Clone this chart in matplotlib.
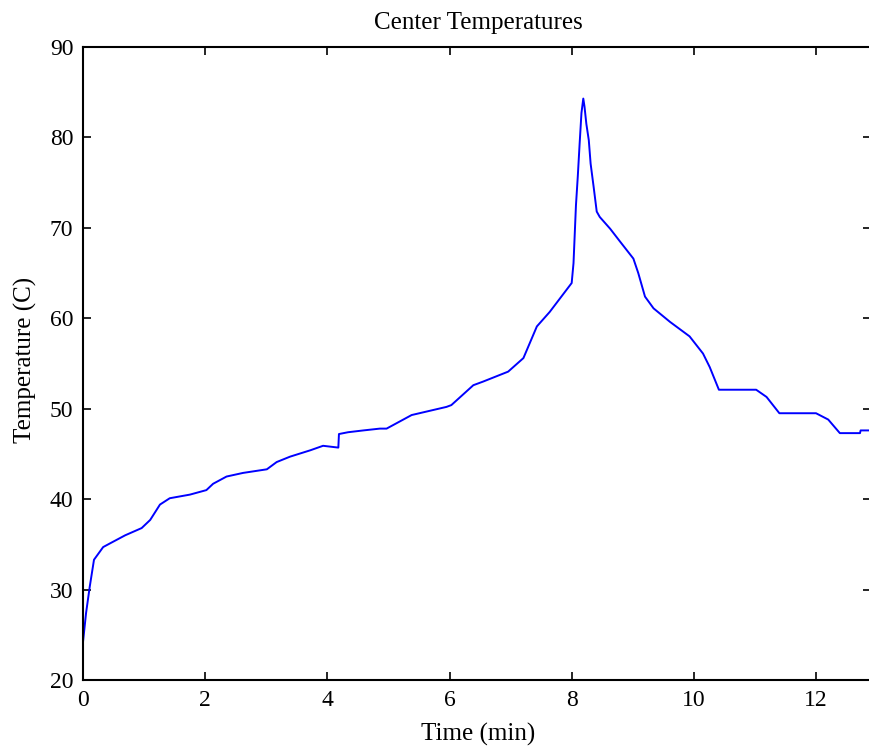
import matplotlib
matplotlib.use("Agg")
import matplotlib.pyplot as plt

time_min = [0.0, 0.05, 0.11, 0.18, 0.33, 0.44, 0.69, 0.96, 1.10, 1.26, 1.42, 1.75,
            2.02, 2.13, 2.35, 2.62, 3.01, 3.17, 3.39, 3.72, 3.93, 4.18, 4.19, 4.34,
            4.59, 4.86, 4.97, 5.38, 5.95, 6.03, 6.39, 6.55, 6.96, 7.21, 7.43, 7.64,
            8.00, 8.03, 8.07, 8.10, 8.13, 8.16, 8.19, 8.21, 8.24, 8.28, 8.31, 8.36,
            8.41, 8.46, 8.63, 8.79, 9.01, 9.09, 9.20, 9.34, 9.61, 9.93, 10.15, 10.26,
            10.41, 11.02, 11.19, 11.40, 12.00, 12.20, 12.39, 12.72, 12.73, 12.88]
temp_c = [24.2, 27.4, 30.3, 33.3, 34.7, 35.1, 36.0, 36.8, 37.7, 39.4, 40.1, 40.5,
          41.0, 41.7, 42.5, 42.9, 43.3, 44.1, 44.7, 45.4, 45.9, 45.7, 47.2, 47.4,
          47.6, 47.8, 47.8, 49.3, 50.2, 50.4, 52.6, 53.0, 54.1, 55.6, 59.1, 60.7,
          63.9, 66.1, 72.5, 75.7, 79.3, 82.7, 84.3, 83.4, 81.5, 79.7, 77.1, 74.5,
          71.8, 71.2, 69.9, 68.5, 66.6, 65.0, 62.4, 61.1, 59.6, 58.0, 56.1, 54.6,
          52.1, 52.1, 51.3, 49.5, 49.5, 48.8, 47.3, 47.3, 47.6, 47.6]

xticks = [0, 2, 4, 6, 8, 10, 12]
yticks = [20, 30, 40, 50, 60, 70, 80, 90]

plt.rcParams['font.family'] = ['Liberation Serif', 'DejaVu Serif']

W, H = 869, 746
fig = plt.figure(figsize=(W / 100, H / 100), dpi=100)
left, right, top, bottom = 83, 871, 47, 680
ax = fig.add_axes([left / W, (H - bottom) / H, (right - left) / W, (bottom - top) / H])

ax.plot(time_min, temp_c, color=(0, 0, 1), linewidth=1.4)
ax.set_xlim(0, 12.9)
ax.set_ylim(20, 90)
ax.set_xticks(xticks)
ax.set_yticks(yticks)
ax.tick_params(direction='in', length=6, width=1.2, top=True, right=True,
               labelsize=17, pad=7, colors='black')
for s in ax.spines.values():
    s.set_linewidth(1.5)

fig.text(478 / W, 1 - 23 / H, "Center Temperatures", fontsize=18,
         ha='center', va='center')
ax.set_xlabel("Time (min)", fontsize=18)
ax.xaxis.set_label_coords((478 - left) / (right - left), (bottom - 723) / (bottom - top))
ax.set_ylabel("Temperature (C)", fontsize=18)
ax.yaxis.set_label_coords((37 - left) / (right - left), (bottom - 360) / (bottom - top))

fig.savefig("out.png", dpi=100)
